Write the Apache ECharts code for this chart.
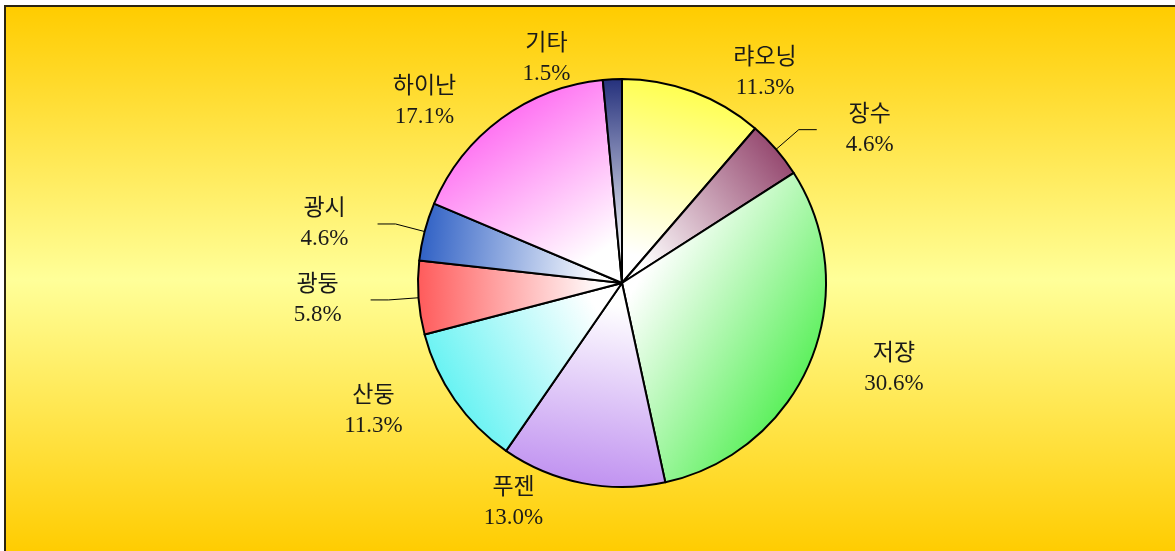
<!DOCTYPE html>
<html>
<head>
<meta charset="utf-8">
<script src="https://cdn.jsdelivr.net/npm/echarts@6/dist/echarts.min.js"></script>
<style>
  html, body { margin: 0; padding: 0; background: #ffffff; }
  #frame { position: absolute; left: 4px; top: 5px; width: 1171px; height: 546px;
           border-left: 2px solid #2b2410; border-top: 2px solid #2b2410; }
  #chart { width: 1171px; height: 546px; }
</style>
</head>
<body>
<div id="frame"><div id="chart"></div></div>
<script>
// ---- data ----
const categories = ['랴오닝', '장수', '저쟝', '푸젠', '산둥', '광둥', '광시', '하이난', '기타'];
const shares = [11.3, 4.6, 30.6, 13.0, 11.3, 5.8, 4.6, 17.1, 1.5];
const sliceColors = ['#FFFF40', '#8A3560', '#45EE45', '#BE8EF0', '#45F0F0', '#FF5A5A', '#2C5EC4', '#FF45EE', '#24307C'];
const withLeader = ['장수', '광둥', '광시'];

// gradient from apex (white) toward the outer rim (colour) along each slice's bisector
const total = shares.reduce((a, b) => a + b, 0);
let acc = 0;
const pieData = categories.map((name, i) => {
  const mid = (acc + shares[i] / 2) / total * Math.PI * 2;
  acc += shares[i];
  const dx = Math.sin(mid), dy = -Math.cos(mid);
  const m = Math.max(Math.abs(dx), Math.abs(dy));
  const ux = dx / m / 2, uy = dy / m / 2;
  const lead = withLeader.indexOf(name) >= 0;
  return {
    name: name,
    value: shares[i],
    itemStyle: {
      color: {
        type: 'linear',
        x: 0.5 - ux, y: 0.5 - uy, x2: 0.5 + ux, y2: 0.5 + uy,
        colorStops: [
          { offset: 0, color: '#FFFFFF' },
          { offset: 0.1, color: '#FFFFFF' },
          { offset: 1, color: sliceColors[i] }
        ]
      }
    },
    labelLine: lead ? { show: true, length: 30, length2: 18 } : { show: false }
  };
});

const chart = echarts.init(document.getElementById('chart'), null, { renderer: 'canvas' });
chart.setOption({
  animation: false,
  backgroundColor: {
    type: 'linear', x: 0, y: 0, x2: 0, y2: 1,
    colorStops: [
      { offset: 0, color: '#FFCC00' },
      { offset: 0.5, color: '#FFFF99' },
      { offset: 1, color: '#FFCC00' }
    ]
  },
  series: [{
    type: 'pie',
    center: [616, 276],
    radius: 204,
    startAngle: 90,
    clockwise: true,
    avoidLabelOverlap: false,
    itemStyle: { borderColor: '#000000', borderWidth: 2 },
    emphasis: { disabled: true },
    label: {
      show: true,
      position: 'outside',
      formatter: p => '{t|' + p.name + '}\n{t|' + p.value.toFixed(1) + '%}',
      rich: {
        t: {
          width: 96, align: 'center', lineHeight: 30,
          fontSize: 23, color: '#1a1a1a',
          fontFamily: "'Liberation Serif', 'Noto Sans CJK KR', serif"
        }
      }
    },
    labelLine: {
      length: 20, length2: 12,
      lineStyle: { color: '#000000', width: 1 }
    },
    data: pieData
  }]
});
</script>
</body>
</html>
